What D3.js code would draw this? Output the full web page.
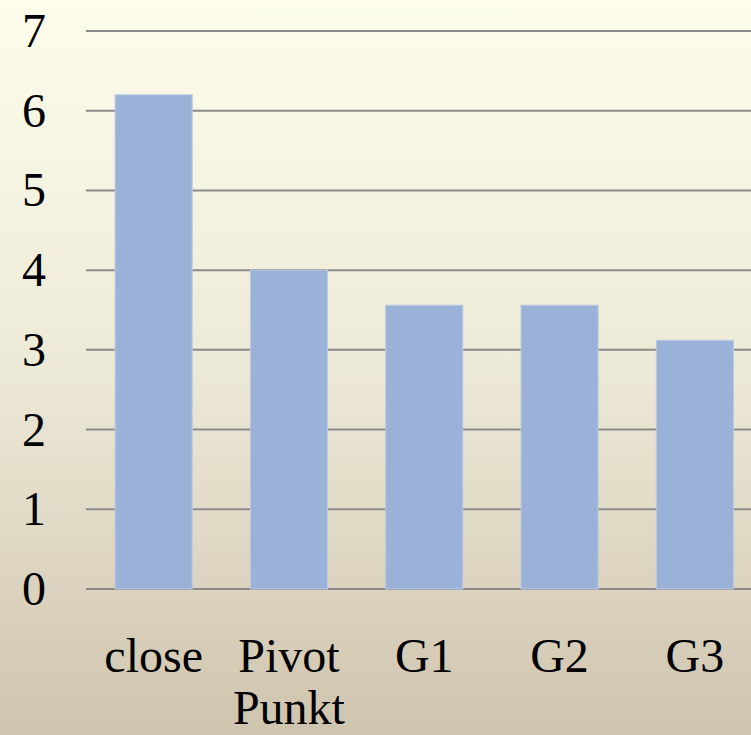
<!DOCTYPE html>
<html>
<head>
<meta charset="utf-8">
<script src="https://cdn.jsdelivr.net/npm/d3@7"></script>
<style>
  html, body { margin: 0; padding: 0; overflow: hidden; }
  svg { display: block; }
  text { font-family: "Liberation Serif", "Times New Roman", serif; }
</style>
</head>
<body>
<script>
const categories = [["close"], ["Pivot", "Punkt"], ["G1"], ["G2"], ["G3"]];
const values = [6.2, 4.0, 3.56, 3.56, 3.12];
const yTicks = [0, 1, 2, 3, 4, 5, 6, 7];

const W = 751, H = 735;
const svg = d3.select("body").append("svg").attr("width", W).attr("height", H);

const defs = svg.append("defs");
const grad = defs.append("linearGradient").attr("id", "bg").attr("x1", 0).attr("y1", 0).attr("x2", 0).attr("y2", 1);
grad.append("stop").attr("offset", "0%").attr("stop-color", "#FDFDEB");
grad.append("stop").attr("offset", "50%").attr("stop-color", "#EDE9D7");
grad.append("stop").attr("offset", "100%").attr("stop-color", "#CFC4AE");
svg.append("rect").attr("width", W).attr("height", H).attr("fill", "url(#bg)");

const x0 = 86, step = 135.3;
const x = d3.scaleBand()
  .domain(d3.range(categories.length))
  .range([x0, x0 + step * categories.length])
  .paddingInner(0.43).paddingOuter(0.215);
const y = d3.scaleLinear().domain([0, 7]).range([589, 31]);

// gridlines
svg.append("g").selectAll("line").data(yTicks).join("line")
  .attr("x1", x0).attr("x2", W)
  .attr("y1", d => y(d)).attr("y2", d => y(d))
  .attr("stroke", "#8a8a8a").attr("stroke-width", 2);

// y labels
svg.append("g").selectAll("text").data(yTicks).join("text")
  .attr("x", 46).attr("y", d => y(d) + 16)
  .attr("text-anchor", "end")
  .attr("font-size", 48).attr("fill", "#000")
  .text(d => d);

// bars
svg.append("g").selectAll("rect").data(values).join("rect")
  .attr("x", (d, i) => x(i)).attr("width", x.bandwidth())
  .attr("y", d => y(d)).attr("height", d => y(0) - y(d))
  .attr("fill", "#9BB2D8")
  .attr("stroke", "#BCCAE2").attr("stroke-width", 1);

// x labels
const xl = svg.append("g").selectAll("text").data(categories).join("text")
  .attr("text-anchor", "middle")
  .attr("font-size", 48).attr("fill", "#000");
xl.each(function(lines, i) {
  const t = d3.select(this);
  lines.forEach((ln, j) => {
    t.append("tspan").attr("x", x(i) + x.bandwidth() / 2).attr("y", 672 + j * 52).text(ln);
  });
});
</script>
</body>
</html>
